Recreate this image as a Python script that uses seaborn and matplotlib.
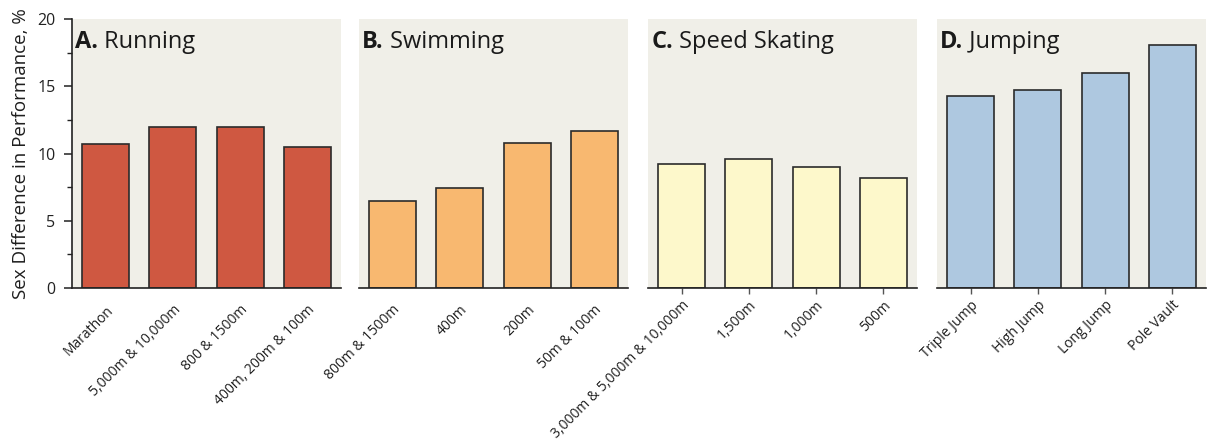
import matplotlib
matplotlib.use("Agg")
import matplotlib.pyplot as plt
import seaborn as sns
import pandas as pd
from matplotlib.ticker import MultipleLocator

# Event categories per sport
running_events = ["Marathon", "5,000m & 10,000m", "800 & 1500m", "400m, 200m & 100m"]
swimming_events = ["800m & 1500m", "400m", "200m", "50m & 100m"]
skating_events = ["3,000m & 5,000m & 10,000m", "1,500m", "1,000m", "500m"]
jumping_events = ["Triple Jump", "High Jump", "Long Jump", "Pole Vault"]

# Sex difference in performance, %
running_values = [10.7, 12.0, 12.0, 10.45]
swimming_values = [6.45, 7.4, 10.8, 11.7]
skating_values = [9.2, 9.6, 9.0, 8.2]
jumping_values = [14.3, 14.7, 16.0, 18.1]

panel_letters = ["A.", "B.", "C.", "D."]
panel_names = ["Running", "Swimming", "Speed Skating", "Jumping"]
bar_colors = ["#cf5841", "#f8b870", "#fdf8cb", "#aec8e0"]

sns.set_style("white")
plt.rcParams["font.family"] = ["Open Sans", "DejaVu Sans"]

fig = plt.figure(figsize=(12.09, 4.45), dpi=100)

panels = [
    (running_events, running_values),
    (swimming_events, swimming_values),
    (skating_events, skating_values),
    (jumping_events, jumping_values),
]
lefts = [72, 359, 648, 937]
W, H = 1209, 445
panel_w = 269
bottom_px = 288
top_px = 19

for i, ((events, values), left) in enumerate(zip(panels, lefts)):
    ax = fig.add_axes([left / W, 1 - bottom_px / H, panel_w / W, (bottom_px - top_px) / H])
    df = pd.DataFrame({"event": events, "value": values})
    sns.barplot(data=df, x="event", y="value", ax=ax, color=bar_colors[i],
                saturation=1, width=0.7, edgecolor="#2b2b2b", linewidth=1.2)
    ax.set_facecolor("#f0efe8")
    ax.set_ylim(0, 20)
    ax.set_xlim(-0.5, 3.5)
    ax.set_xlabel("")
    ax.set_ylabel("")
    for s in ["top", "right"]:
        ax.spines[s].set_visible(False)
    ax.spines["bottom"].set_color("#222222")
    ax.spines["bottom"].set_linewidth(1.2)
    ax.set_xticks(range(len(events)))
    ax.set_xticklabels(events, rotation=45, ha="right", rotation_mode="anchor",
                       fontsize=10, color="#1e1e1e")
    if i >= 2:
        ax.tick_params(axis="x", bottom=True, length=4, width=1, color="#555555", pad=3)
    else:
        ax.tick_params(axis="x", bottom=False, pad=7)
    if i == 0:
        ax.spines["left"].set_color("#222222")
        ax.spines["left"].set_linewidth(1.2)
        ax.yaxis.set_major_locator(MultipleLocator(5))
        ax.yaxis.set_minor_locator(MultipleLocator(2.5))
        ax.tick_params(axis="y", which="major", left=True, length=6, width=1.1,
                       labelsize=11.5, colors="#222222", pad=6)
        ax.tick_params(axis="y", which="minor", left=True, length=3.5, width=1.0,
                       colors="#222222")
        ax.set_ylabel("Sex Difference in Performance, %", fontsize=13.5,
                      color="#1e1e1e", labelpad=5)
    else:
        ax.spines["left"].set_visible(False)
        ax.set_yticks([])
    t = ax.text(0.012, 0.96, panel_letters[i], transform=ax.transAxes,
                fontsize=17, fontweight="bold", va="top", ha="left", color="#1a1a1a")
    ax.annotate(" " + panel_names[i], xy=(1, 0), xycoords=t, va="bottom", ha="left",
                fontsize=17, color="#1a1a1a")

fig.savefig("out.png", dpi=100)
